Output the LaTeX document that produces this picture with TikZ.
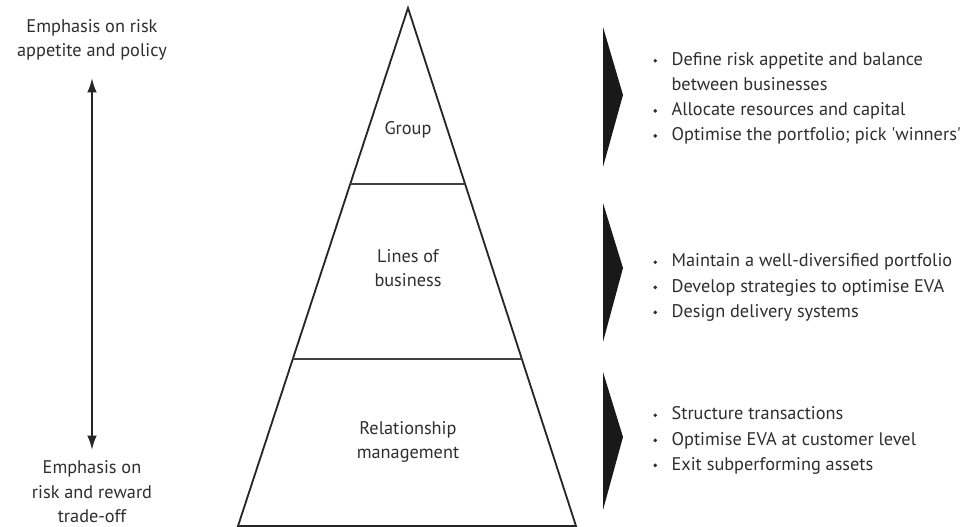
\documentclass[tikz,border=0pt]{standalone}
\usepackage{fontspec}
\setmainfont{PT Sans}[Ligatures=TeXOff]
\usepackage{tikz}
\usetikzlibrary{arrows.meta,positioning,calc}
\definecolor{inkgray}{HTML}{2E2E2E}

\begin{document}
\begin{tikzpicture}[
    x=0.025cm, y=-0.025cm,
    label/.style={align=center, text=inkgray, font=\fontsize{13}{17.5}\selectfont},
    bullets/.style={anchor=west, align=left, text=inkgray, inner sep=0pt, font=\fontsize{13}{17.8}\selectfont},
    tier/.style={draw=black!85, line width=1.3pt},
    divider/.style={draw=black!75, line width=0.9pt},
    chevron/.style={fill=black!90, draw=none}
]
\useasboundingbox (0,0) rectangle (976,527);

% pyramid
\coordinate (apex) at (408,8);
\coordinate (bl) at (238,526);
\coordinate (br) at (576,526);
\draw[tier, line join=miter] (apex) -- (bl) -- (br) -- cycle;
\draw[divider] ($(apex)!0.3398!(bl)$) -- ($(apex)!0.3398!(br)$);
\draw[divider] ($(apex)!0.6776!(bl)$) -- ($(apex)!0.6776!(br)$);

\node[label] (group) at (408,130) {Group};
\node[label] (lob) at (408,268) {Lines of\\business};
\node[label] (rel) at (408,442) {Relationship\\management};

% emphasis axis
\node[label] (top) at (92,40) {Emphasis on risk\\appetite and policy};
\node[label] (bottom) at (92,492) {Emphasis on\\risk and reward\\trade-off};
\coordinate (up) at (92,78);
\coordinate (down) at (92,450);
\draw[{Latex[length=0.36cm,width=0.24cm]}-{Latex[length=0.36cm,width=0.24cm]}, line width=1.4pt, black!85] (up) -- (down);

% chevrons
\foreach \ya/\yt/\yb in {27/95/167, 203/268/342, 372/437/510}
    \fill[chevron] (603,\ya) -- (623,\yt) -- (603,\yb) -- cycle;

% actions
\newcommand{\dotitem}{\raisebox{0.3ex}{\tikz\fill[inkgray] (0,0) circle (1.4pt);}}
\node[bullets] (acts1) at (653,98) {\begin{tabular}{@{}l@{\hspace{0.36cm}}l@{}}
\dotitem & Define risk appetite and balance\\
 & between businesses\\
\dotitem & Allocate resources and capital\\
\dotitem & Optimise the portfolio; pick 'winners'
\end{tabular}};
\node[bullets] (acts2) at (653,287) {\begin{tabular}{@{}l@{\hspace{0.36cm}}l@{}}
\dotitem & Maintain a well-diversified portfolio\\
\dotitem & Develop strategies to optimise EVA\\
\dotitem & Design delivery systems
\end{tabular}};
\node[bullets] (acts3) at (653,440) {\begin{tabular}{@{}l@{\hspace{0.36cm}}l@{}}
\dotitem & Structure transactions\\
\dotitem & Optimise EVA at customer level\\
\dotitem & Exit subperforming assets
\end{tabular}};

\end{tikzpicture}
\end{document}
